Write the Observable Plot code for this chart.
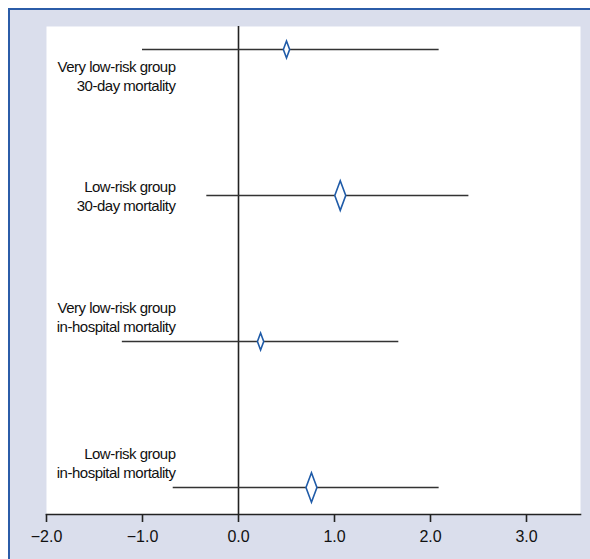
<!DOCTYPE html>
<html>
<head>
<meta charset="utf-8">
<script src="https://cdn.jsdelivr.net/npm/d3@7"></script>
<script src="https://cdn.jsdelivr.net/npm/@observablehq/plot@0.6"></script>
<style>
  html, body { margin: 0; padding: 0; background: #ffffff; }
  #wrap { position: relative; width: 590px; height: 559px; overflow: hidden; background: #ffffff; }
  #bg { position: absolute; left: 8px; top: 8px; right: 0; bottom: 0;
        background: #dadeec; border-top: 2px solid #2b5ca8; border-left: 2px solid #2b5ca8; }
  #chart { position: absolute; left: 0; top: 0; }
  .rowlabel text, text.rowlabel { letter-spacing: -0.5px; }
</style>
</head>
<body>
<div id="wrap"><div id="bg"></div><div id="chart"></div></div>
<script>
// Data
const labels = [
  "Very low-risk group\n30-day mortality",
  "Low-risk group\n30-day mortality",
  "Very low-risk group\nin-hospital mortality",
  "Low-risk group\nin-hospital mortality"
];
const riskGroup = ["Very low", "Low", "Very low", "Low"];
const estimate = [0.50, 1.06, 0.23, 0.76];
const lower = [-1.00, -0.33, -1.21, -0.68];
const upper = [2.09, 2.40, 1.67, 2.09];
const xTicks = [-2, -1, 0, 1, 2, 3];

const rows = labels.map((label, i) => ({
  i, label, risk: riskGroup[i], est: estimate[i], lo: lower[i], hi: upper[i]
}));

// tall narrow diamond symbol
const tallDiamond = {
  draw(ctx, size) {
    const r = Math.sqrt(size / Math.PI);
    const w = r * 0.37;
    ctx.moveTo(0, -r);
    ctx.lineTo(w, 0);
    ctx.lineTo(0, r);
    ctx.lineTo(-w, 0);
    ctx.closePath();
  }
};

const labelFont = "'Liberation Sans', Arial, sans-serif";
const textMark = (i, dy) => Plot.text(rows.filter(d => d.i === i), {
  y: "i", text: "label", frameAnchor: "left", dx: 129, dy,
  textAnchor: "end", lineAnchor: "middle", lineHeight: 1.27,
  fontSize: 15, fill: "#111", fontFamily: labelFont, className: "rowlabel"
});

const chart = Plot.plot({
  width: 590,
  height: 559,
  marginLeft: 46,
  marginRight: 10,
  marginTop: 26,
  marginBottom: 45,
  style: { background: "transparent", fontFamily: "'Liberation Sans', Arial, sans-serif", fontSize: "16px", overflow: "visible" },
  x: { domain: [-2, 3.5625], ticks: xTicks, tickFormat: d3.format(".1f") },
  y: { domain: [-0.158, 3.185], reverse: true, axis: null },
  r: { type: "identity" },
  marks: [
    Plot.frame({ fill: "#ffffff", stroke: null }),
    Plot.frame({ anchor: "bottom", stroke: "#222", strokeWidth: 1.6 }),
    Plot.ruleX([0], { stroke: "#222", strokeWidth: 1.6 }),
    Plot.ruleY(rows, { y: "i", x1: "lo", x2: "hi", stroke: "#333", strokeWidth: 1.4 }),
    Plot.dot(rows, {
      x: "est", y: "i",
      r: d => d.risk === "Very low" ? 8.5 : 14.8,
      symbol: tallDiamond,
      fill: "#ffffff", stroke: "#1f5ba8", strokeWidth: 1.6
    }),
    textMark(0, 26),
    textMark(1, 0),
    textMark(2, -25),
    textMark(3, -25),
    Plot.axisX({
      ticks: xTicks, tickFormat: d3.format(".1f"), tickSize: 8, tickPadding: 8,
      fontSize: 16, stroke: "#222", strokeWidth: 1.6, fill: "#111"
    })
  ]
});
document.getElementById("chart").appendChild(chart);
</script>
</body>
</html>
